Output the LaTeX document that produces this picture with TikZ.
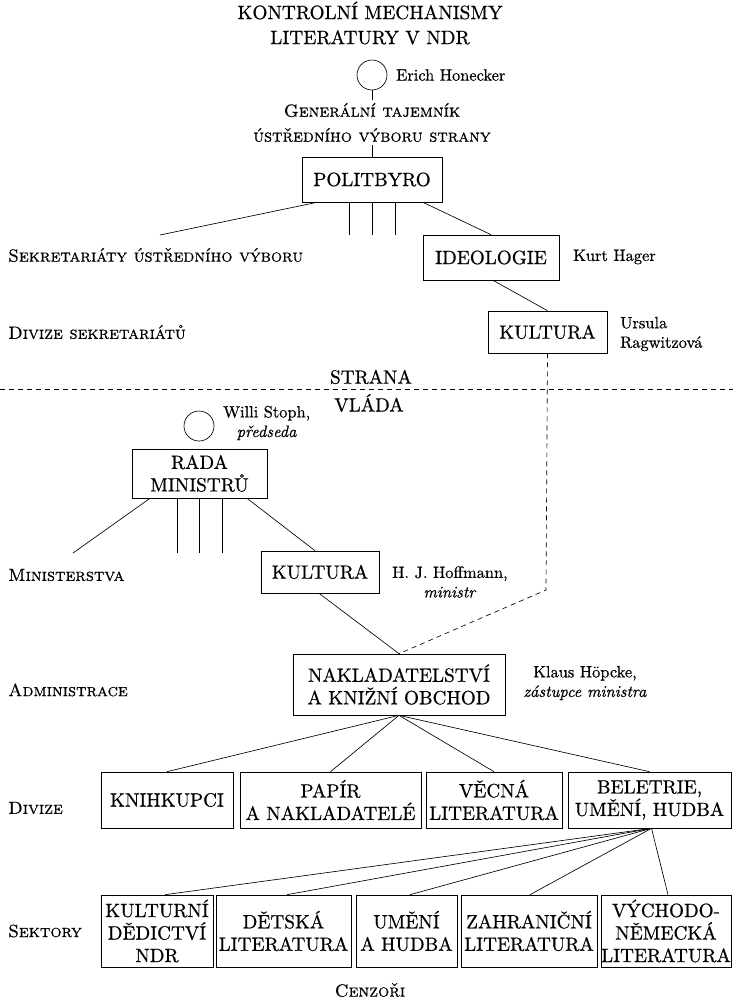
\documentclass[tikz,border=0pt]{standalone}
\usepackage{fontspec}
\setmainfont{lmroman10-regular.otf}[
  ItalicFont=lmroman10-italic.otf,
  SmallCapsFont=lmromancaps10-regular.otf,
  RawFeature={embolden=0.6}]
\newcommand\bxfont{\fontsize{19.2}{22.5}\selectfont}
\newcommand\scfont{\fontsize{17.6}{25}\selectfont\scshape}
\newcommand\nmfont{\fontsize{16.4}{19.5}\selectfont}
\newcommand\ttlfont{\fontsize{19.3}{25}\selectfont}
\tikzset{
  conn/.style={line width=0.65pt},
  dconn/.style={line width=0.65pt, dash pattern=on 5pt off 4pt},
  box/.style={draw, line width=0.65pt, inner sep=0pt, align=center, font=\bxfont},
  person/.style={draw, circle, line width=0.65pt, minimum size=30pt, inner sep=0pt},
  lvl/.style={font=\scfont, anchor=west, inner sep=0pt},
  nm/.style={font=\nmfont, align=center, inner sep=0pt},
  captext/.style={font=\scfont, align=center, inner sep=0pt},
  side/.style={font=\bxfont, inner sep=0pt}
}
\begin{document}
\begin{tikzpicture}[x=1pt,y=-1pt]
\useasboundingbox (0,0) rectangle (733,1004);
% title
\node[font=\ttlfont, align=center, inner sep=0pt] (title) at (370,23) {KONTROLNÍ MECHANISMY\\LITERATURY V NDR};
% party
\node[person] (hon) at (372,75) {};
\node[nm, anchor=west] (honn) at (396,75) {Erich Honecker};
\node[captext, inner sep=3pt] (gen) at (372,122.5) {Generální tajemník\\ústředního výboru strany};
\node[box, minimum width=140pt, minimum height=45pt] (polit) at (372,179.5) {POLITBYRO};
\node[box, minimum width=136pt, minimum height=45pt] (ideo) at (491,257.5) {IDEOLOGIE};
\node[nm, anchor=west] (hager) at (573,257) {Kurt Hager};
\node[box, minimum width=119pt, minimum height=42pt] (kult1) at (547.5,332) {KULTURA};
\node[nm, anchor=west, align=left] (ursula) at (620,334) {Ursula\\Ragwitzová};
\node[lvl] (sekr) at (8,255) {Sekretariáty ústředního výboru};
\node[lvl] (divs) at (8,332) {Divize sekretariátů};
\coordinate (sl) at (160,235);
\coordinate (v1) at (349,235);
\coordinate (v2) at (372,235);
\coordinate (v3) at (395,235);
\draw[conn] (hon.south) -- (gen.north);
\draw[conn] (gen.south) -- (polit.north);
\draw[conn] ([xshift=-55pt]polit.south) -- (sl);
\draw[conn] ([xshift=-23pt]polit.south) -- (v1);
\draw[conn] (polit.south) -- (v2);
\draw[conn] ([xshift=23pt]polit.south) -- (v3);
\draw[conn] ([xshift=51pt]polit.south) -- (ideo.north);
\draw[conn] ([xshift=2pt]ideo.south) -- (kult1.north);
% divider
\node[side] (strana) at (371,377) {STRANA};
\node[side] (vlada) at (369,403) {VLÁDA};
\coordinate (dl) at (0,389);
\coordinate (dr) at (733,389);
\draw[dconn] (dl) -- (dr);
% government
\node[person] (stoph) at (199,426) {};
\node[nm, anchor=west] (stophn) at (223,423) {Willi Stoph,\\\textit{předseda}};
\node[box, minimum width=135pt, minimum height=49pt] (rada) at (199.5,473.5) {RADA\\MINISTRŮ};
\node[lvl] (mini) at (8,575) {Ministerstva};
\node[box, minimum width=118pt, minimum height=42pt] (kult2) at (320,572) {KULTURA};
\node[nm, anchor=west] (hoff) at (392,582) {H. J. Hoffmann,\\\textit{ministr}};
\coordinate (ml) at (73,553);
\coordinate (w1) at (177,553);
\coordinate (w2) at (199.5,553);
\coordinate (w3) at (222,553);
\draw[conn] ([xshift=-49.5pt]rada.south) -- (ml);
\draw[conn] ([xshift=-22.5pt]rada.south) -- (w1);
\draw[conn] (rada.south) -- (w2);
\draw[conn] ([xshift=22.5pt]rada.south) -- (w3);
\draw[conn] ([xshift=47.5pt]rada.south) -- ([xshift=-5pt]kult2.north);
% administration
\node[box, minimum width=212pt, minimum height=61pt] (nak) at (399,684.5) {NAKLADATELSTVÍ\\A KNIŽNÍ OBCHOD};
\node[nm] (hopcke) at (585,683) {Klaus Höpcke,\\\textit{zástupce ministra}};
\node[lvl] (adm) at (8,690) {Administrace};
\draw[conn] ([xshift=-1pt]kult2.south) -- (nak.north);
\coordinate (bend) at (546,590);
\draw[dconn] (kult1.south) -- (bend) -- (nak.north);
% divisions
\node[box, minimum width=132pt, minimum height=56pt] (knih) at (167,800) {KNIHKUPCI};
\node[box, minimum width=181pt, minimum height=56pt] (papir) at (330.5,800) {PAPÍR\\A NAKLADATELÉ};
\node[box, minimum width=136pt, minimum height=56pt] (vecna) at (494,800) {VĚCNÁ\\LITERATURA};
\node[box, minimum width=163pt, minimum height=56pt] (bel) at (649.5,800) {BELETRIE,\\UMĚNÍ, HUDBA};
\node[lvl] (div) at (8,808) {Divize};
\draw[conn] (nak.south) -- (knih.north);
\draw[conn] (nak.south) -- (papir.north);
\draw[conn] (nak.south) -- (vecna.north);
\draw[conn] (nak.south) -- (bel.north);
% sectors
\node[box, minimum width=112pt, minimum height=72pt] (kd) at (157,931) {KULTURNÍ\\DĚDICTVÍ\\NDR};
\node[box, minimum width=135pt, minimum height=72pt] (det) at (283.5,931) {DĚTSKÁ\\LITERATURA};
\node[box, minimum width=101pt, minimum height=72pt] (umh) at (406.5,931) {UMĚNÍ\\A HUDBA};
\node[box, minimum width=136pt, minimum height=72pt] (zahr) at (529,931) {ZAHRANIČNÍ\\LITERATURA};
\node[box, minimum width=130pt, minimum height=72pt] (vych) at (666,931) {VÝCHODO-\\NĚMECKÁ\\LITERATURA};
\node[lvl] (sekt) at (8,931) {Sektory};
\draw[conn] ([xshift=2pt]bel.south) -- ([xshift=8pt]kd.north);
\draw[conn] ([xshift=2pt]bel.south) -- ([xshift=3.5pt]det.north);
\draw[conn] ([xshift=2pt]bel.south) -- ([xshift=3.5pt]umh.north);
\draw[conn] ([xshift=2pt]bel.south) -- ([xshift=1pt]zahr.north);
\draw[conn] ([xshift=2pt]bel.south) -- ([xshift=2pt]vych.north);
\node[captext] (cenz) at (370,990) {Cenzoři};
\end{tikzpicture}
\end{document}
